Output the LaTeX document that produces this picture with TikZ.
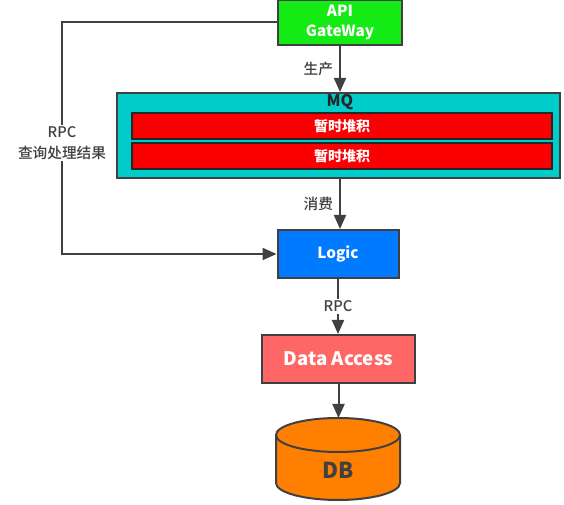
\documentclass[tikz,border=0pt]{standalone}
\usepackage{fontspec}
\setmainfont{Noto Sans CJK SC}
\newfontfamily\lblfont{Noto Sans CJK SC Medium}
\usetikzlibrary{arrows.meta}
\definecolor{linegray}{RGB}{64,64,64}
\definecolor{gwgreen}{RGB}{20,235,20}
\definecolor{mqcyan}{RGB}{0,204,204}
\definecolor{barred}{RGB}{250,0,0}
\definecolor{logicblue}{RGB}{0,122,255}
\definecolor{dapink}{RGB}{255,102,102}
\definecolor{dborange}{RGB}{255,128,0}
\begin{document}
\begin{tikzpicture}[x=0.75pt,y=0.75pt,color=linegray,line width=1.5pt,>={Triangle[length=10.5pt,width=9pt]}]
  \def\p{0.75pt}

\tikzstyle{box}=[rectangle,draw=linegray,line width=1.5pt,inner sep=0pt,text=white,align=center,font=\bfseries\fontsize{11.5}{15.5}\selectfont]
\tikzstyle{bar}=[rectangle,draw=black!85,fill=barred,line width=1.2pt,inner sep=0pt,text=white,minimum width=420*\p,minimum height=26*\p,font=\bfseries\fontsize{10.5}{12}\selectfont]
\tikzstyle{lbl}=[inner sep=1.5pt,text=linegray,align=center,font=\lblfont\fontsize{11}{15.5}\selectfont]
\useasboundingbox (0,0) rectangle (564,505);
\node[box][fill=gwgreen,minimum width=124*\p,minimum height=45*\p] (API) at (340,482.5) {API\\GateWay};
\node[box][fill=mqcyan,minimum width=443*\p,minimum height=85*\p] (MQ) at (338.5,369.5) {};
\node[lbl][text=black!85,font=\bfseries\fontsize{12}{13}\selectfont] (mqtitle) at (340,403) {MQ};
\node[bar] (B1) at (342,379) {暂时堆积};
\node[bar] (B2) at (342,349) {暂时堆积};
\draw[->] (API.south) -- node[lbl,left=3pt] {生产} (API.south |- MQ.north);
\node[box][fill=logicblue,minimum width=121*\p,minimum height=48*\p] (Logic) at (338,251) {Logic};
\draw[->] (340,327) -- node[lbl,left=3pt] {消费} (Logic.north -| 340,0);
\coordinate (rpcturn) at (62,482.5);
\draw[->] (API.west) -- (rpcturn) |- (Logic.west);
\node[lbl][fill=white] (rpcq) at (62,362) {RPC\\查询处理结果};
\node[box][fill=dapink,minimum width=153*\p,minimum height=48*\p,font=\bfseries\fontsize{14}{16}\selectfont] (Data) at (338.5,146) {Data Access};
\draw[->] (Logic.south) -- node[lbl,fill=white] {RPC} (Logic.south |- Data.north);
\filldraw[fill=dborange] (276,70) -- (276,22) arc[start angle=180,end angle=360,x radius=62,y radius=17] -- (400,70) arc[start angle=0,end angle=180,x radius=62,y radius=17] -- cycle;
\draw (276,70) arc[start angle=180,end angle=360,x radius=62,y radius=17];
\node[lbl][font=\bfseries\fontsize{16.5}{18}\selectfont,minimum width=124*\p] (DB) at (338,35) {DB};
\coordinate (dbtop) at (338,87);
\draw[->] (Data.south) -- (Data.south |- dbtop);
\end{tikzpicture}
\end{document}
